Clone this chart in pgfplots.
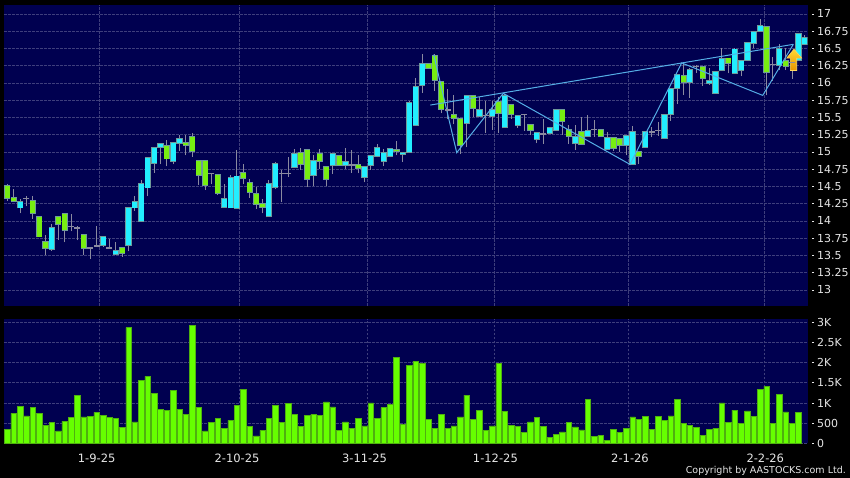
\documentclass[border=0pt]{standalone}
\usepackage{fontspec}
\setmainfont{DejaVu Sans}
\usepackage{pgfplots}
\usepackage{pgfplotstable}
\pgfplotsset{compat=1.18}
\definecolor{navy}{HTML}{000050}
\definecolor{gridc}{HTML}{3E3E7C}
\definecolor{cyanb}{HTML}{22EEFF}
\definecolor{greenb}{HTML}{77EE11}
\definecolor{edgec}{HTML}{6F9A9A}
\definecolor{wick}{HTML}{8A8AA0}
\definecolor{volg}{HTML}{66FF00}
\definecolor{vole}{HTML}{4FB010}
\definecolor{linec}{HTML}{55AEE6}
\definecolor{labc}{HTML}{E6E6E6}
\definecolor{arrtop}{HTML}{FFD830}
\definecolor{arrbot}{HTML}{E89400}
\definecolor{arredge}{HTML}{FFD860}
\pgfplotstableread{
i h l t b
0 14.53 14.29 14.51 14.33
1 14.46 14.28 14.34 14.29
4 14.36 14.03 14.29 14.11
5 14.06 13.77 14.06 13.77
6 13.79 13.50 13.70 13.61
8 14.06 13.73 14.06 13.95
9 14.11 13.69 14.11 13.86
12 13.80 13.50 13.80 13.61
18 13.61 13.48 13.61 13.53
25 15.18 14.79 15.09 14.90
28 15.25 14.95 15.14 15.10
29 15.28 14.93 15.22 15.01
30 14.87 14.52 14.87 14.66
31 14.87 14.45 14.87 14.51
33 14.67 14.38 14.67 14.40
37 14.83 14.53 14.70 14.62
38 14.61 14.34 14.55 14.42
39 14.49 14.17 14.39 14.24
40 14.32 14.11 14.25 14.20
46 15.06 14.74 14.99 14.82
47 15.04 14.49 15.04 14.61
49 15.04 14.75 14.97 14.87
50 14.79 14.50 14.79 14.61
52 14.95 14.80 14.95 14.80
55 14.96 14.69 14.82 14.76
61 15.16 14.95 15.04 15.01
66 16.28 16.21 16.28 16.21
67 16.42 15.89 16.40 16.04
68 16.02 15.56 16.02 15.62
70 15.82 15.40 15.54 15.49
71 15.49 14.97 15.49 15.09
73 15.82 15.51 15.82 15.63
77 15.79 15.28 15.73 15.56
79 15.69 15.48 15.69 15.55
82 15.39 15.25 15.39 15.32
87 15.61 15.25 15.61 15.44
88 15.39 15.12 15.32 15.23
90 15.50 15.11 15.29 15.11
93 15.33 15.22 15.33 15.22
95 15.21 15.02 15.21 15.05
96 15.19 15.00 15.19 15.10
99 15.00 14.83 15.00 14.93
106 16.28 15.83 16.11 16.01
109 16.23 15.96 16.23 16.06
113 16.36 16.14 16.36 16.28
119 16.81 15.82 16.81 16.15
122 16.50 16.19 16.32 16.24
}\greentable
\pgfplotstableread{
i h l t b
2 14.32 14.11 14.28 14.19
7 13.95 13.57 13.90 13.59
15 13.77 13.63 13.77 13.64
17 13.70 13.52 13.57 13.52
19 14.19 13.56 14.19 13.64
20 14.36 14.15 14.28 14.19
21 14.59 14.00 14.54 14.00
22 14.92 14.36 14.92 14.48
23 15.06 14.70 15.06 14.84
24 15.12 14.82 15.12 15.07
26 15.13 14.82 15.13 14.87
27 15.24 15.02 15.19 15.13
34 14.54 14.20 14.32 14.20
35 14.66 14.19 14.63 14.19
36 15.03 14.18 14.65 14.18
41 14.59 14.06 14.54 14.06
42 14.86 14.47 14.83 14.49
45 15.04 14.77 14.98 14.77
48 14.95 14.51 14.87 14.66
51 14.97 14.68 14.97 14.80
53 15.06 14.76 14.86 14.80
56 14.79 14.56 14.79 14.63
57 14.95 14.74 14.95 14.80
58 15.11 14.92 15.06 14.94
59 15.04 14.80 14.99 14.87
60 15.05 14.92 15.05 14.93
62 14.99 14.86 14.99 14.97
63 15.74 15.00 15.71 15.00
64 16.07 15.39 15.95 15.39
65 16.42 15.86 16.28 15.96
72 15.82 15.07 15.82 15.42
74 15.79 15.50 15.61 15.52
76 15.74 15.32 15.62 15.52
78 15.84 15.35 15.82 15.35
80 15.53 15.35 15.53 15.39
83 15.28 15.13 15.28 15.18
85 15.35 15.27 15.35 15.27
86 15.61 15.31 15.61 15.31
89 15.39 15.03 15.22 15.12
91 15.54 15.22 15.31 15.22
94 15.29 15.04 15.21 15.04
97 15.23 14.95 15.23 15.10
98 15.37 14.82 15.29 14.82
100 15.29 15.07 15.29 15.07
103 15.54 15.20 15.54 15.20
104 15.92 15.45 15.92 15.54
105 16.13 15.70 16.12 15.92
107 16.22 15.78 16.20 16.01
110 16.21 15.97 16.04 16.00
111 16.16 15.85 16.16 15.85
112 16.50 16.18 16.35 16.18
114 16.50 16.14 16.49 16.14
115 16.32 16.10 16.32 16.18
116 16.58 16.33 16.58 16.33
117 16.74 16.50 16.74 16.57
118 16.93 16.75 16.83 16.75
121 16.56 16.19 16.50 16.26
124 16.71 16.33 16.71 16.33
125 16.70 16.56 16.66 16.56
}\cyantable
\pgfplotstableread{
i h l t b
3 14.36 14.21 14.33 14.33
10 14.10 13.85 13.92 13.92
11 13.93 13.72 13.90 13.90
13 13.61 13.45 13.61 13.61
14 13.93 13.64 13.64 13.64
16 13.74 13.61 13.61 13.61
32 14.69 14.53 14.69 14.69
43 14.74 14.27 14.69 14.69
44 14.93 14.64 14.69 14.69
54 15.03 14.70 14.81 14.81
69 15.91 15.48 15.61 15.61
75 15.74 15.28 15.53 15.53
81 15.54 15.31 15.54 15.54
84 15.48 15.12 15.26 15.26
92 15.46 15.22 15.33 15.33
101 15.36 15.21 15.29 15.29
102 15.44 15.23 15.31 15.31
108 16.26 16.15 16.24 16.24
120 16.38 16.03 16.27 16.27
123 16.35 16.06 16.30 16.30
}\dojitable
\pgfplotstableread{
i v
0 355
1 744
2 909
3 678
4 893
5 752
6 438
7 521
8 306
9 545
10 645
11 1198
12 653
13 669
14 769
15 702
16 636
17 612
18 388
19 2868
20 529
21 1570
22 1661
23 1231
24 835
25 826
26 1314
27 835
28 727
29 2925
30 884
31 306
32 512
33 628
34 372
35 570
36 942
37 1347
38 413
39 182
40 322
41 628
42 950
43 512
44 983
45 719
46 413
47 686
48 727
49 686
50 1025
51 901
52 322
53 529
54 364
55 620
56 430
57 1000
58 612
59 884
60 975
61 2132
62 463
63 1942
64 2033
65 1983
66 595
67 372
68 727
69 364
70 430
71 653
72 1198
73 595
74 818
75 314
76 430
77 1975
78 793
79 438
80 421
81 273
82 529
83 636
84 413
85 149
86 231
87 281
88 521
89 405
90 331
91 1099
92 165
93 198
94 74
95 347
96 264
97 380
98 653
99 595
100 669
101 355
102 669
103 570
104 678
105 1083
106 488
107 446
108 388
109 190
110 339
111 380
112 1000
113 512
114 826
115 504
116 802
117 661
118 1347
119 1413
120 488
121 1207
122 777
123 504
124 760
}\voltable
\pgfplotsset{
  panel/.style={
    scale only axis, width=803.7pt,
    xmin=-0.517, xmax=125.45,
    axis background/.style={fill=navy},
    axis line style={draw=none},
    clip=true,
    grid=major,
    major grid style={gridc, line width=0.7pt, dash pattern=on 2.5pt off 1.5pt},
    xtick={14.42,36.36,56.42,76.33,97.3,118.6},
    x tick style={draw=none},
    xticklabels={},
    ymajorgrids, xmajorgrids,
    ytick pos=right,
    y tick style={xshift=4pt, draw=labc, line width=0.7pt},
    major tick length=2.5pt,
    tick align=outside,
    yticklabel style={font=\fontsize{11}{12}\selectfont, text=labc, anchor=west, xshift=3.5pt},
  },
  wicks/.style={forget plot, draw=none, mark=none,
    error bars/.cd, y dir=plus, y explicit, error mark=none,
    error bar style={draw=wick, line width=1pt}},
}
\newcommand{\candles}[2]{%
  \addplot[wicks] table[x=i, y=l, y error plus expr=\thisrow{h}-\thisrow{l}] {#1};
  \addplot[forget plot, draw=none, mark=none,
    error bars/.cd, y dir=plus, y explicit, error mark=none,
    error bar style={draw=edgec, line width=6.2pt}]
    table[x=i, y expr=\thisrow{b}-0.009, y error plus expr=\thisrow{t}-\thisrow{b}+0.018] {#1};
  \addplot[forget plot, draw=none, mark=none,
    error bars/.cd, y dir=plus, y explicit, error mark=none,
    error bar style={draw=#2, line width=5pt}]
    table[x=i, y expr=\thisrow{b}+0.005, y error plus expr=\thisrow{t}-\thisrow{b}-0.01] {#1};
}
\begin{document}
\begin{tikzpicture}
\useasboundingbox (0,0) rectangle (850pt,478pt);
\fill[black] (0,0) rectangle (850pt,478pt);
\begin{axis}[panel, at={(4pt,172pt)}, anchor=south west, height=301pt,
  ymin=12.768, ymax=17.13,
  ytick={13,13.25,13.5,13.75,14,14.25,14.5,14.75,15,15.25,15.5,15.75,16,16.25,16.5,16.75,17},
  yticklabels={13,13.25,13.5,13.75,14,14.25,14.5,14.75,15,15.25,15.5,15.75,16,16.25,16.5,16.75,17},
]
\candles{\greentable}{greenb}
\candles{\cyantable}{cyanb}
\addplot[wicks] table[x=i, y=l, y error plus expr=\thisrow{h}-\thisrow{l}] {\dojitable};
\addplot[only marks, mark=-, mark size=3pt, mark options={draw=wick, line width=1.4pt}, forget plot]
  table[x=i, y=t] {\dojitable};
\addplot[linec, line width=1pt, mark=none, forget plot] coordinates {(66.3,15.68)(123.2,16.56)};
\addplot[linec, line width=1pt, mark=none, forget plot] coordinates
  {(66.83,16.41)(70.44,14.99)(77.74,15.85)(97.6,14.82)(105.7,16.29)(118.4,15.82)(123.2,16.56)};
\addplot[draw=arredge, line width=0.6pt, top color=arrtop, bottom color=arrbot, mark=none, forget plot] coordinates
  {(123.3,16.49)(124.5,16.36)(123.73,16.36)(123.73,16.18)(122.73,16.18)(122.73,16.36)(122.16,16.36)(123.3,16.49)};
\end{axis}
\begin{axis}[panel, at={(4pt,34.67pt)}, anchor=south west, height=124.33pt,
  ymin=0, ymax=3083,
  ytick={0,500,1000,1500,2000,2500,3000},
  yticklabels={0,500,1K,1.5K,2K,2.5K,3K},
  extra x ticks={14,36,56,76.5,97.6,118.8},
  extra x tick labels={1-9-25,2-10-25,3-11-25,1-12-25,2-1-26,2-2-26},
  extra x tick style={grid=none, tick style={draw=labc, yshift=-3.5pt, line width=0.5pt}},
  xticklabel style={font=\fontsize{11.5}{12}\selectfont, text=labc, yshift=-5pt},
]
\addplot[ybar, bar width=5.5pt, bar shift=0pt, fill=volg, draw=vole, line width=0.5pt, forget plot]
  table[x=i, y=v] {\voltable};
\end{axis}
\node[anchor=east, text=labc, font=\fontsize{9.5}{11}\selectfont, inner sep=0pt] at (846pt,7pt) {Copyright by AASTOCKS.com Ltd.};
\end{tikzpicture}
\end{document}
